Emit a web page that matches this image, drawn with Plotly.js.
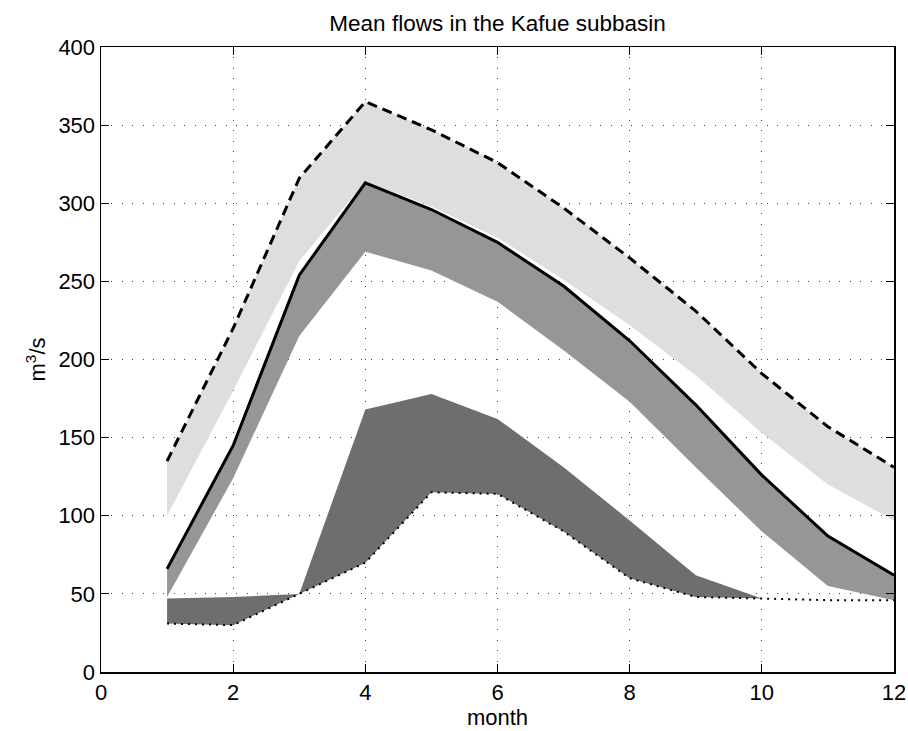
<!DOCTYPE html>
<html>
<head>
<meta charset="utf-8">
<script src="https://cdn.plot.ly/plotly-3.0.1.min.js"></script>
<style>html,body{margin:0;padding:0;background:#fff;}#chart{width:908px;height:731px;}</style>
</head>
<body>
<div id="chart"></div>
<script>
const months = [1,2,3,4,5,6,7,8,9,10,11,12];
const upperDashed = [135,220,316,365,347,326,297,265,231,191,157,131];
const meanSolid   = [66,145,254,313,296,275,247,212,171,126,87,62];
const lightLower  = [100,180,263,314,298,278,251,222,190,153,120,97];
const mediumLower = [48,124,215,269,257,237,206,173,131,90,55,46];
const darkUpper   = [47,48,50,168,178,162,131,97,62,47,46,46];
const darkLower   = [31,30,50,70,115,114,90,60,48,47,46,46];
const xTicks = [0,2,4,6,8,10,12];
const yTicks = [0,50,100,150,200,250,300,350,400];

const FONT = 'Liberation Sans, Arial, sans-serif';
const none = {width:0, color:'rgba(0,0,0,0)'};

const traces = [
  {x: months, y: lightLower, mode:'lines', line:none},
  {x: months, y: upperDashed, mode:'lines', fill:'tonexty', fillcolor:'#dedede', line:none},
  {x: months, y: mediumLower, mode:'lines', line:none},
  {x: months, y: meanSolid, mode:'lines', fill:'tonexty', fillcolor:'#969696', line:none},
  {x: months, y: darkLower, mode:'lines', line:none},
  {x: months, y: darkUpper, mode:'lines', fill:'tonexty', fillcolor:'#6e6e6e', line:none},
  {x: months, y: upperDashed, mode:'lines', line:{color:'#000', width:3, dash:'10px,6px'}},
  {x: months, y: meanSolid, mode:'lines', line:{color:'#000', width:3}},
  {x: months, y: darkLower, mode:'lines', line:{color:'#000', width:2, dash:'2px,5px'}}
];

const axisCommon = {
  showline: true, linecolor:'#000', linewidth:1.5, mirror:'allticks',
  ticks:'inside', ticklen:8, tickwidth:1, tickcolor:'#000',
  showgrid:true, gridcolor:'#444', gridwidth:1, griddash:'1px,9.4px',
  zeroline:false, tickfont:{family:FONT, size:22, color:'#000'}
};

const layout = {
  width: 908, height: 731,
  margin: {l:101, r:14, t:47, b:59},
  paper_bgcolor:'#fff', plot_bgcolor:'#fff',
  showlegend:false,
  title: {text:'Mean flows in the Kafue subbasin', x:0.548, xanchor:'center', y:0.969, yanchor:'middle',
          font:{family:FONT, size:22.5, color:'#000'}},
  xaxis: Object.assign({}, axisCommon, {range:[0,12], tickmode:'array', tickvals:xTicks, ticktext:xTicks.map(String),
          title:{text:'month', standoff:0, font:{family:FONT, size:22, color:'#000'}}}),
  yaxis: Object.assign({}, axisCommon, {range:[0,400], tickmode:'array', tickvals:yTicks, ticktext:yTicks.map(String),
          title:{text:'m<sup>3</sup>/s', standoff:6, font:{family:FONT, size:22, color:'#000'}}})
};

Plotly.newPlot('chart', traces, layout, {displayModeBar:false, staticPlot:true});
</script>
</body>
</html>
